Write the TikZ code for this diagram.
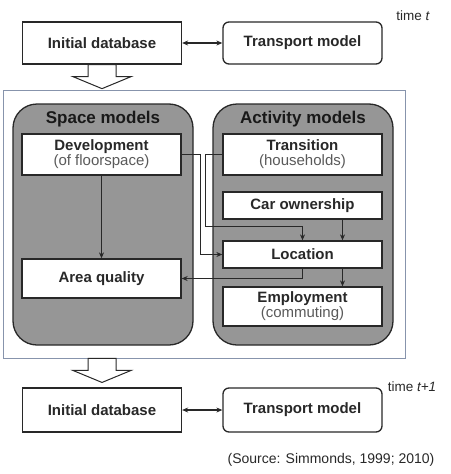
\documentclass[tikz,border=0pt]{standalone}
\usepackage{fontspec}
\setmainfont{Liberation Sans}
\usetikzlibrary{arrows.meta}
\definecolor{txtgray}{RGB}{40,40,40}
\definecolor{subgray}{RGB}{90,90,90}
\definecolor{fillgray}{RGB}{150,150,150}
\definecolor{framecol}{RGB}{135,148,172}
\newcommand{\subtext}[1]{{\color{subgray}\mdseries #1}}
\begin{document}
\begin{tikzpicture}
    [
        x=1pt, y=-1pt,
        box/.style={rectangle, draw=txtgray, fill=white, line width=1.3pt, minimum width=159pt, inner sep=1pt, text=txtgray, align=center, font=\fontsize{15}{16}\selectfont\bfseries},
        model/.style={rectangle, rounded corners=24pt, draw=txtgray, fill=fillgray, line width=1.3pt, minimum width=180pt, minimum height=241pt},
        title/.style={text=black!90, font=\fontsize{17}{18}\selectfont\bfseries},
        hollow/.style={draw=txtgray, fill=white, line width=1pt},
        arrow/.style={-{Stealth[length=6pt,width=5pt]}, line width=1.2pt, draw=txtgray},
        biarrow/.style={{Stealth[length=6pt,width=5pt]}-{Stealth[length=6pt,width=5pt]}, line width=1.2pt, draw=txtgray},
        note/.style={text=txtgray, font=\fontsize{13.5}{15}\selectfont}
    ]
    \useasboundingbox (0,0) rectangle (450,474);

    % Frame and model groups
    \node[draw=framecol, line width=0.9pt, minimum width=402pt, minimum height=268pt] (frame) at (204,224) {};
    \node[model] (space) at (103,224.5) {};
    \node[model] (activity) at (303,224.5) {};
    \node[title] (spacetitle) at (103,119) {Space models};
    \node[title] (activitytitle) at (303,119) {Activity models};

    % Nodes
    \node[box, minimum height=42pt] (init) at (102,43) {Initial database};
    \node[box, minimum height=42pt, rounded corners=6pt] (transport) at (302.5,43) {Transport model};
    \node[box, minimum height=41pt] (dev) at (101.5,154.5) {Development\\[-1pt]\subtext{(of floorspace)}};
    \node[box, minimum height=41pt] (trans) at (302.5,154.5) {Transition\\[-1pt]\subtext{(households)}};
    \node[box, minimum height=27pt] (car) at (302.5,205.5) {Car ownership};
    \node[box, minimum height=27pt] (loc) at (302.5,254.5) {Location};
    \node[box, minimum height=39pt] (area) at (101.5,278.5) {Area quality};
    \node[box, minimum height=39pt] (emp) at (302.5,306.5) {Employment\\[-1pt]\subtext{(commuting)}};
    \node[box, minimum height=44pt] (init2) at (102,410) {Initial database};
    \node[box, minimum height=44pt, rounded corners=6pt] (transport2) at (302.5,410) {Transport model};

    % Texts
    \node[note] (timet) at (413,16) {time \textit{t}};
    \node[note] (timet2) at (412,387) {time \textit{t+1}};
    \node[note, font=\fontsize{14}{16}\selectfont] (source) at (331,460) {(Source: Simmonds, 1999; 2010)};

    % Hollow arrows
    \draw[hollow, shift={(init.south)}] (-14,0) -- (14,0) -- (14,12) -- (29,12) -- (0,24) -- (-29,12) -- (-14,12) -- cycle;
    \draw[hollow, shift={(frame.south -| init.south)}] (-14,0) -- (14,0) -- (14,12) -- (29,12) -- (0,24) -- (-29,12) -- (-14,12) -- cycle;

    % Arrows
    \draw[biarrow] (init) -- (transport);
    \draw[biarrow] (init2) -- (transport2);
    \draw[arrow] (dev) -- (area);
    \draw[arrow] (dev.east) -- ++(19,0) |- (loc.west);
    \draw[arrow] (trans.west) -- ++(-17,0) |- ([yshift=14pt]loc.north) -- (loc.north);
    \draw[arrow] ([xshift=40pt]car.south) -- ([xshift=40pt]loc.north);
    \draw[arrow] (loc.south) |- (area.east);
    \draw[arrow] ([xshift=40pt]loc.south) -- ([xshift=40pt]emp.north);
\end{tikzpicture}
\end{document}
